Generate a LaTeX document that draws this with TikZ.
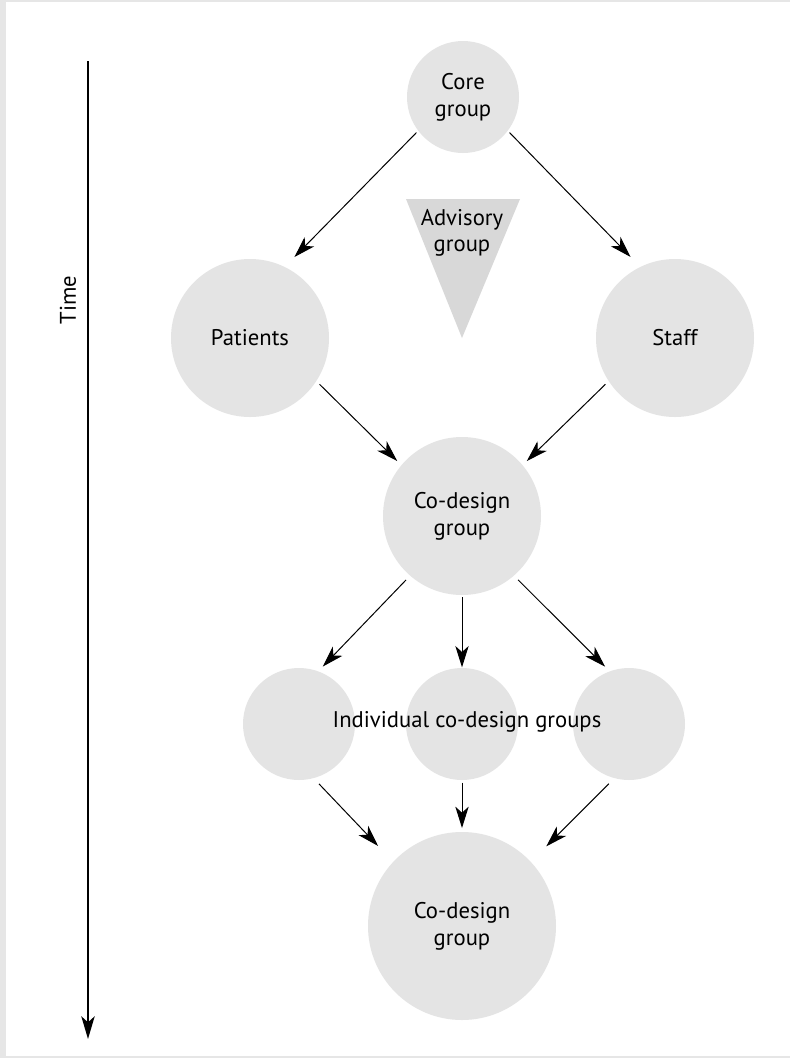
\documentclass[tikz,border=0pt]{standalone}
\usepackage{fontspec}
\setmainfont{PT Sans}
\usetikzlibrary{arrows.meta}

\definecolor{groupgray}{HTML}{E4E4E4}
\definecolor{advisorygray}{HTML}{D8D8D8}
\definecolor{framegray}{HTML}{E6E6E6}

\begin{document}
\begin{tikzpicture}[x=0.75pt, y=-0.75pt,
	every node/.style={font=\fontsize{17}{20}\selectfont},
	group/.style={circle, fill=groupgray, inner sep=0, outer sep=0, align=center},
	flow/.style={-{Stealth[length=16pt, width=10pt, inset=4.5pt]}, line width=0.75pt},
	timeline/.style={-{Stealth[length=17pt, width=10pt, inset=4.5pt]}, line width=1.5pt}]

	\fill[framegray] (0, 0) rectangle (790, 1058);
	\fill[white] (6, 2) rectangle (790, 1056);

	\coordinate (tstart) at (88, 61);
	\coordinate (tend) at (88, 1039);
	\draw[timeline] (tstart) -- (tend);
	\node[rotate=90] (time) at (68, 300) {Time};

	\fill[advisorygray] (406, 199) -- (520, 199) -- (462, 338) -- cycle;
	\node[align=center] (advisory) at (462, 233) {Advisory\\group};

	\node[group, minimum size=84pt] (core) at (463, 97) {Core\\group};
	\node[group, minimum size=118.5pt] (patients) at (250, 338) {Patients};
	\node[group, minimum size=118.5pt] (staff) at (675, 338) {Staff};
	\node[group, minimum size=118.5pt] (codesign) at (462, 516) {Co-design\\group};
	\node[group, minimum size=84pt] (indivA) at (299, 724) {};
	\node[group, minimum size=84pt] (indivB) at (462, 724) {};
	\node[group, minimum size=84pt] (indivC) at (629, 724) {};
	\node (indiv) at (467, 722) {Individual co-design groups};
	\node[group, minimum size=141pt] (final) at (462, 926) {Co-design\\group};

	\draw[flow, shorten <=2pt, shorten >=10.5pt] (core.217) -- (patients.64);
	\draw[flow, shorten <=2pt, shorten >=10.5pt] (core.323) -- (staff.116);
	\draw[flow, shorten <=3.5pt, shorten >=4.5pt] (patients.327) -- (codesign.140);
	\draw[flow, shorten <=3.5pt, shorten >=4.5pt] (staff.213) -- (codesign.40);

	\draw[flow, shorten <=4.5pt, shorten >=5pt] (codesign.229) -- (indivA.70);
	\draw[flow, shorten <=1.5pt, shorten >=0.5pt] (codesign.south) -- (indivB.north);
	\draw[flow, shorten <=4.5pt, shorten >=5pt] (codesign.311) -- (indivC.110);

	\draw[flow, shorten <=6pt, shorten >=16.5pt] (indivA.285) -- (final.137);
	\draw[flow, shorten <=2pt, shorten >=3pt] (indivB.south) -- (final.north);
	\draw[flow, shorten <=6pt, shorten >=16.5pt] (indivC.255) -- (final.43);

\end{tikzpicture}
\end{document}
